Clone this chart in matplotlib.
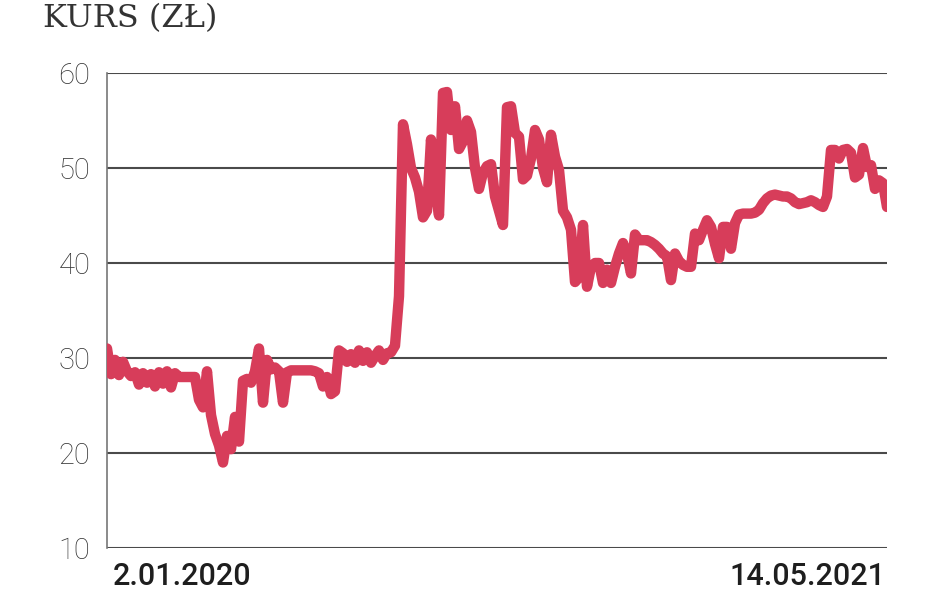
import matplotlib
matplotlib.use("Agg")
import matplotlib.pyplot as plt

# kurs akcji (zł), sesje od 2.01.2020 do 14.05.2021
kurs = [
    31.0, 28.3, 29.8, 28.2, 29.6, 28.6, 28.1, 28.5, 27.2, 28.4,
    27.4, 28.3, 27.0, 28.5, 27.3, 28.6, 26.9, 28.4, 28.0, 28.0,
    28.0, 28.0, 28.0, 25.6, 24.8, 28.6, 24.0, 22.0, 20.8, 19.0,
    21.8, 20.4, 23.8, 21.2, 27.6, 27.8, 27.4, 28.6, 31.0, 25.3,
    29.8, 28.8, 29.0, 28.6, 25.3, 28.5, 28.7, 28.7, 28.7, 28.7,
    28.7, 28.7, 28.6, 28.4, 27.0, 28.0, 26.2, 26.5, 30.8, 30.5,
    29.6, 30.4, 29.5, 30.8, 29.7, 30.6, 29.5, 30.2, 30.8, 29.8,
    30.5, 30.6, 31.3, 36.5, 54.6, 52.5, 50.0, 49.0, 47.5, 44.8,
    45.5, 53.0, 48.0, 45.0, 57.9, 58.0, 54.0, 56.5, 52.0, 52.8,
    55.0, 53.8, 50.0, 47.8, 49.5, 50.2, 50.4, 47.0, 45.5, 44.0,
    56.4, 56.5, 53.7, 53.3, 48.8, 49.2, 51.0, 54.0, 53.0, 50.0,
    48.5, 53.5, 51.2, 49.8, 45.5, 44.8, 43.5, 38.0, 38.5, 44.0,
    37.5, 39.6, 40.0, 40.0, 37.9, 39.3, 37.9, 39.6, 41.0, 42.1,
    41.0, 38.9, 43.0, 42.4, 42.4, 42.4, 42.2, 41.9, 41.5, 41.0,
    40.7, 38.2, 41.0, 40.2, 39.8, 39.6, 39.6, 43.1, 42.4, 43.5,
    44.5, 43.8, 42.0, 40.5, 43.8, 43.8, 41.5, 44.2, 45.1, 45.2,
    45.2, 45.2, 45.3, 45.6, 46.3, 46.8, 47.1, 47.2, 47.1, 47.0,
    47.0, 46.8, 46.4, 46.2, 46.3, 46.4, 46.6, 46.4, 46.1, 45.9,
    47.0, 51.9, 51.9, 51.0, 51.9, 52.0, 51.6, 49.0, 49.3, 52.1,
    50.1, 50.3, 47.8, 48.7, 48.4, 45.9,
]
y_ticks = [10, 20, 30, 40, 50, 60]
data_od = "2.01.2020"
data_do = "14.05.2021"
tytul = "KURS (ZŁ)"

fig = plt.figure(figsize=(9.48, 5.93), dpi=100)
ax = fig.add_axes([107 / 948, 45 / 593, 780 / 948, 475 / 593])

ax.plot(range(len(kurs)), kurs, color="#d73d5a", lw=7.5,
        solid_joinstyle="round", solid_capstyle="round", zorder=3)

ax.set_xlim(0, len(kurs) - 1)
ax.set_ylim(10, 60)
ax.set_yticks(y_ticks)
ax.set_xticks([])
for v in y_ticks:
    ax.axhline(v, color="#4a4a4a", lw=1.5, zorder=1)

for s in ["top", "right", "bottom"]:
    ax.spines[s].set_visible(False)
ax.spines["left"].set_color("#777777")
ax.spines["left"].set_linewidth(1.2)
ax.tick_params(axis="y", length=0, pad=12, labelsize=21, labelcolor="#333333")
for lab in ax.get_yticklabels():
    lab.set_family("Roboto")
    lab.set_fontweight("light")

ax.text(0.008, -0.03, data_od, transform=ax.transAxes, ha="left", va="top",
        fontsize=22, fontweight="medium", color="#1e1e1e", family="Roboto")
ax.text(0.998, -0.03, data_do, transform=ax.transAxes, ha="right", va="top",
        fontsize=22, fontweight="medium", color="#1e1e1e", family="Roboto")

fig.text(43 / 948, 1 - 27 / 593, tytul, ha="left", va="baseline",
         fontsize=23, color="#333333", family=["DejaVu Serif"])

fig.savefig("out.png", dpi=100, facecolor="white")
